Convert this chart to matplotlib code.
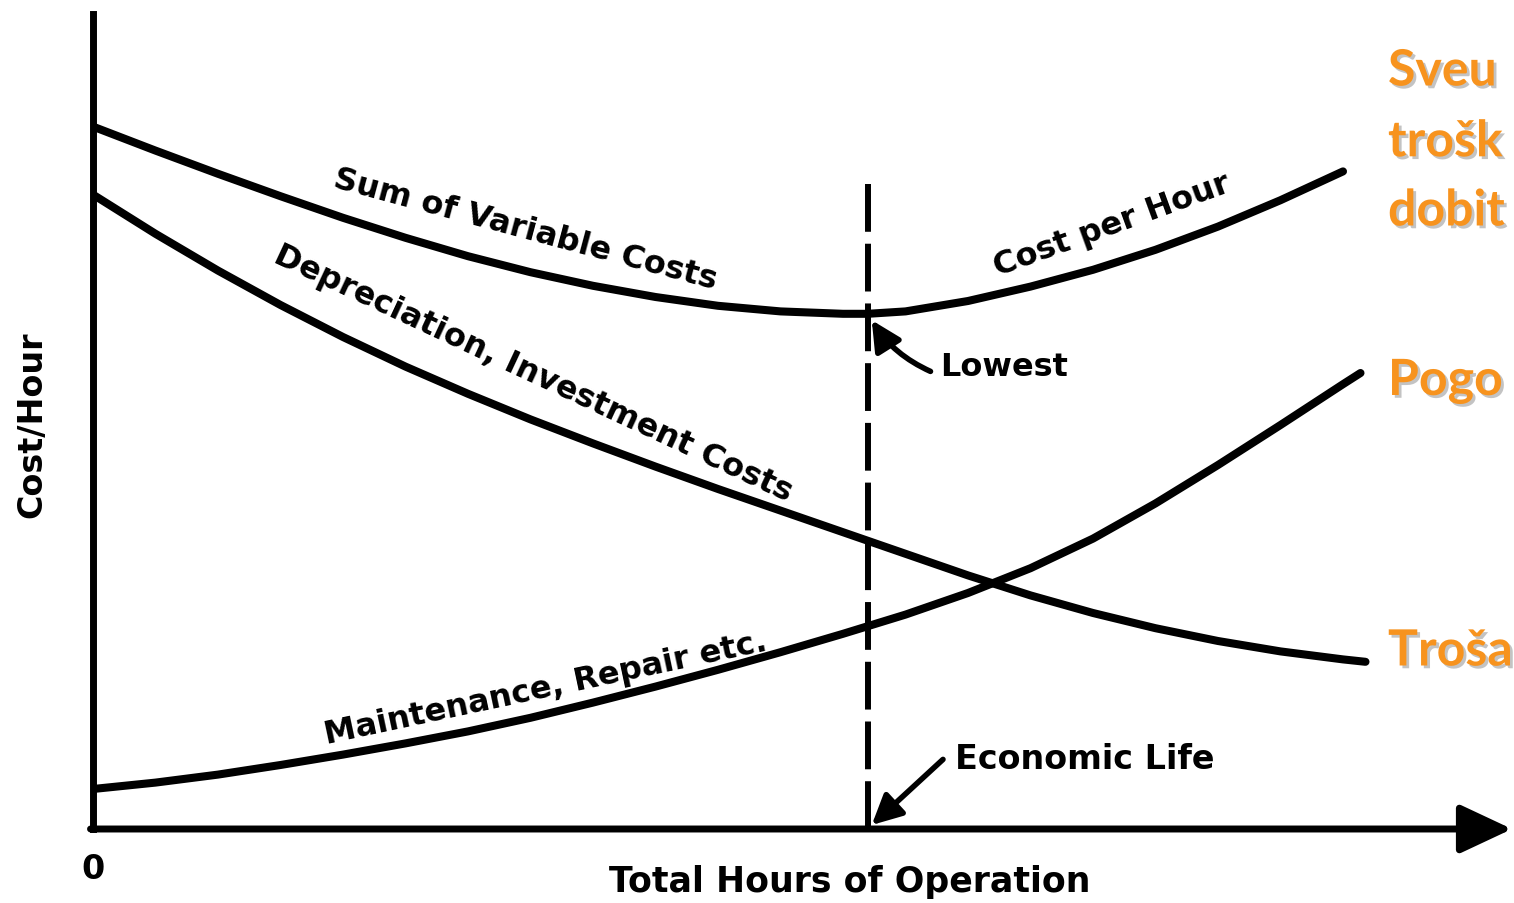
import matplotlib
matplotlib.use('Agg')
import matplotlib.pyplot as plt
import matplotlib.patheffects as pe

# values (hours of operation vs cost per hour, arbitrary units)
hours = [0, 0.5, 1, 1.5, 2, 2.5, 3, 3.5, 4, 4.5, 5, 5.5, 6, 6.2, 6.5, 7,
         7.5, 8, 8.5, 9, 9.5, 10]
cost_per_hour = [8.78, 8.48, 8.19, 7.91, 7.64, 7.39, 7.16, 6.96, 6.79, 6.65,
                 6.54, 6.47, 6.44, 6.44, 6.47, 6.60, 6.78, 6.99, 7.24, 7.53,
                 7.86, 8.22]

dep_hours = [0, 0.5, 1, 1.5, 2, 2.5, 3, 3.5, 4, 4.5, 5, 5.5, 6, 6.5, 7, 7.5,
             8, 8.5, 9, 9.5, 10, 10.18]
depreciation = [7.93, 7.44, 6.98, 6.55, 6.15, 5.78, 5.44, 5.12, 4.82, 4.53,
                4.25, 3.98, 3.71, 3.44, 3.17, 2.92, 2.70, 2.51, 2.35, 2.22,
                2.12, 2.09]

mnt_hours = [0, 0.5, 1, 1.5, 2, 2.5, 3, 3.5, 4, 4.5, 5, 5.5, 6, 6.5, 7, 7.5,
             8, 8.5, 9, 9.5, 10, 10.14]
maintenance = [0.50, 0.58, 0.68, 0.80, 0.93, 1.07, 1.22, 1.39, 1.58, 1.78,
               1.99, 2.21, 2.44, 2.68, 2.95, 3.26, 3.63, 4.07, 4.55, 5.05,
               5.56, 5.70]

economic_life = 6.2
lowest_cost = 6.44

side_text = ['Sveu', 'trošk', 'dobit', 'Pogo', 'Troša']
side_y = [9.475, 8.59, 7.725, 5.6, 2.225]

fig = plt.figure(figsize=(15.14, 9.04), dpi=100)
ax = fig.add_axes([93 / 1514, 74 / 904, 1419 / 1514, 815 / 904])
ax.set_xlim(0, 11.352)
ax.set_ylim(0, 10.1875)
for s in ['top', 'right', 'bottom']:
    ax.spines[s].set_visible(False)
ax.spines['left'].set_linewidth(5)
ax.set_xticks([])
ax.set_yticks([])
ax.patch.set_alpha(0)

lw = 5.8
for xs, ys in [(hours, cost_per_hour), (dep_hours, depreciation),
               (mnt_hours, maintenance)]:
    ax.plot(xs, ys, color='black', lw=lw, solid_capstyle='round',
            solid_joinstyle='round')
ax.plot([economic_life, economic_life], [0, 8.06], color='black', lw=4.3,
        linestyle=(0, (8, 2)))

# x axis with arrow head
ax.annotate('', xy=(11.352, 0), xytext=(-0.02, 0), annotation_clip=False,
            arrowprops=dict(arrowstyle='-|>,head_length=1.6,head_width=0.75',
                            lw=5, color='black', mutation_scale=20,
                            shrinkA=0, shrinkB=0))

bold = dict(family='DejaVu Sans', weight='bold', color='black')
ax.text(3.46, 7.50, 'Sum of Variable Costs', rotation=-15, fontsize=23,
        ha='center', va='center', **bold)
ax.text(3.52, 5.70, 'Depreciation, Investment Costs', rotation=-25,
        fontsize=23, ha='center', va='center', **bold)
ax.text(8.15, 7.55, 'Cost per Hour', rotation=20, fontsize=23,
        ha='center', va='center', **bold)
ax.text(3.62, 1.76, 'Maintenance, Repair etc.', rotation=12, fontsize=23,
        ha='center', va='center', **bold)

head = dict(arrowstyle='-|>,head_length=0.9,head_width=0.45', lw=4,
            color='black', mutation_scale=20, shrinkA=0, shrinkB=0)
ax.text(6.776, 5.775, 'Lowest', fontsize=23, va='center', ha='left', **bold)
ax.annotate('', xy=(economic_life + 0.03, lowest_cost - 0.08),
            xytext=(6.7, 5.72),
            arrowprops=dict(connectionstyle='arc3,rad=-0.15', **head))
ax.text(6.896, 0.875, 'Economic Life', fontsize=24, va='center', ha='left',
        **bold)
ax.annotate('', xy=(economic_life + 0.03, 0.05), xytext=(6.8, 0.87),
            arrowprops=head)

ax.text(0, -0.5, '0', fontsize=24, ha='center', va='center', **bold)
ax.text(6.056, -0.65, 'Total Hours of Operation', fontsize=25, ha='center',
        va='center', **bold)
ax.text(-0.488, 5.06, 'Cost/Hour', rotation=90, fontsize=24, ha='center',
        va='center', **bold)

shadow = [pe.SimplePatchShadow(offset=(2, -2), shadow_rgbFace='#888888',
                               alpha=0.5), pe.Normal()]
for t, y in zip(side_text, side_y):
    ax.text(10.36, y, t, fontsize=36, family='Lato', weight='bold',
            color='#F7931E', ha='left', va='center', clip_on=False,
            path_effects=shadow)

fig.savefig('out.png', dpi=100)
